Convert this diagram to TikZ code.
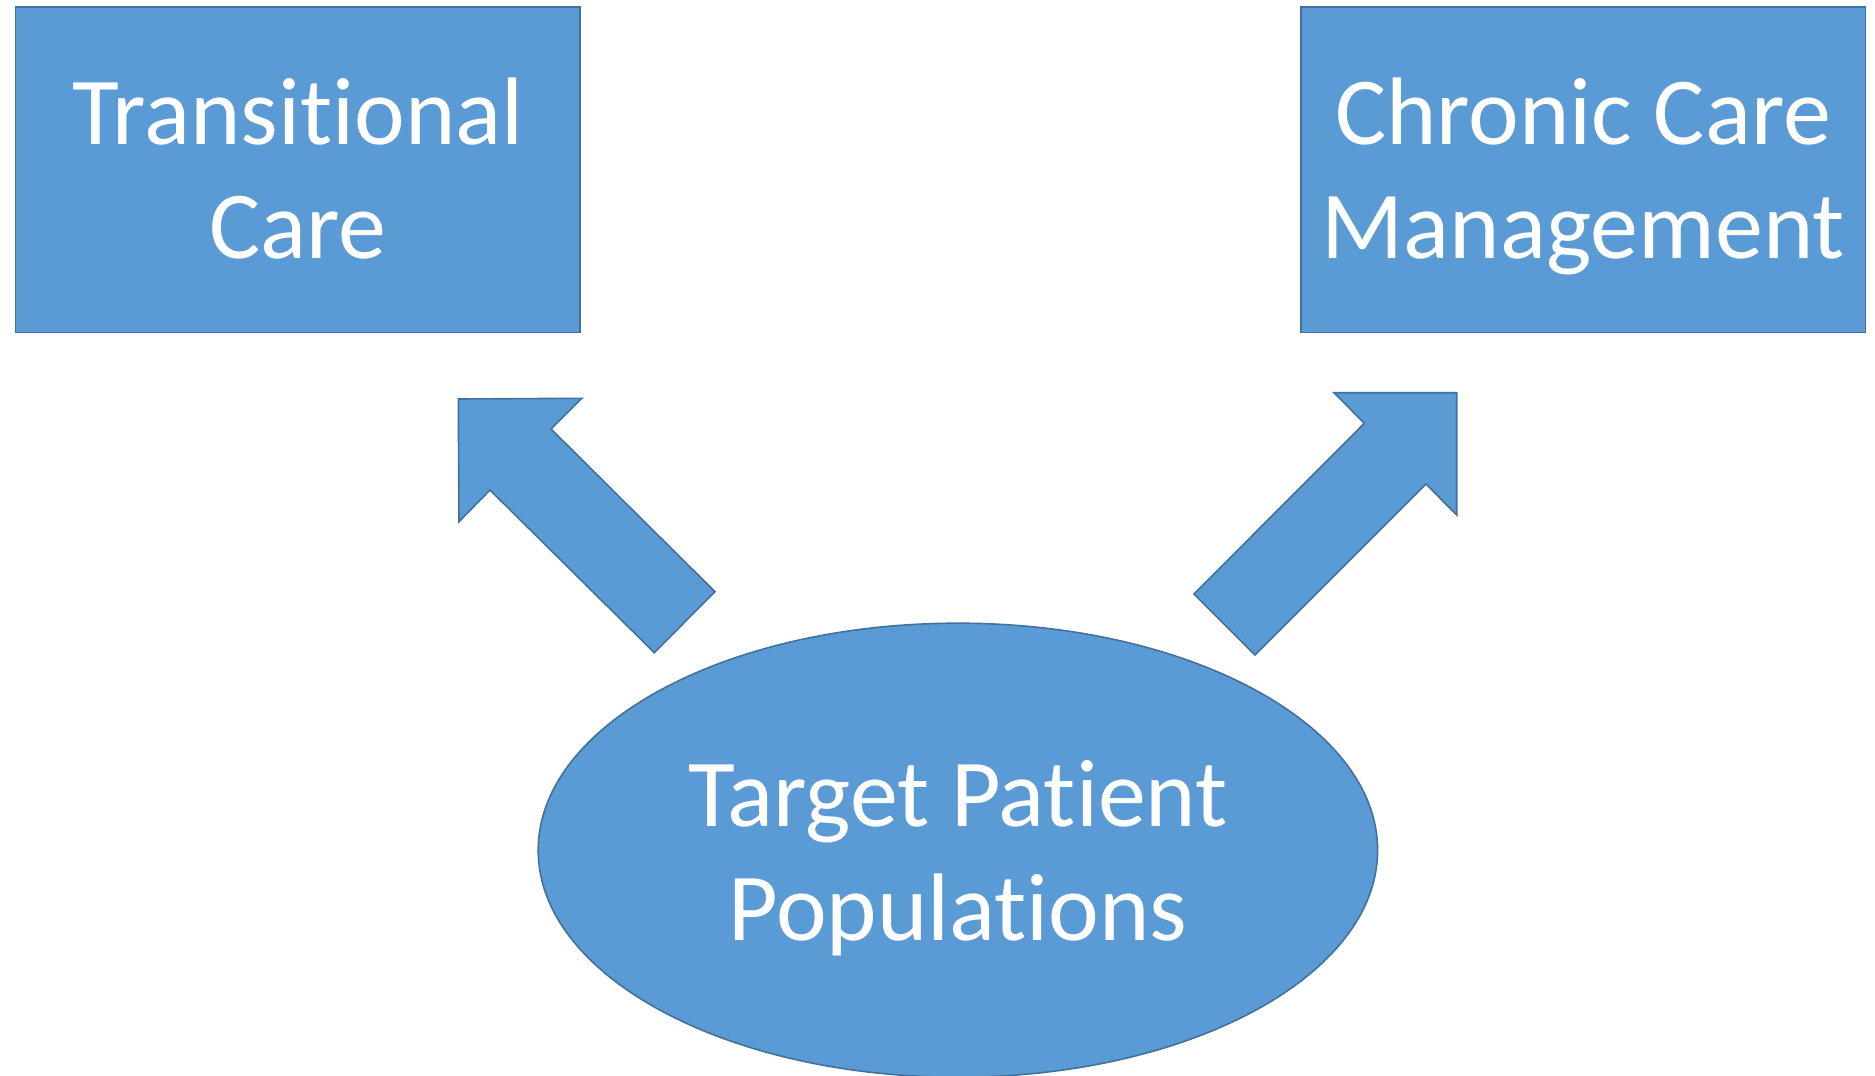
\documentclass[tikz,border=0pt]{standalone}
\usepackage{fontspec}
\setmainfont{Carlito}[Ligatures={NoCommon}]
\usetikzlibrary{shapes.geometric}

\definecolor{boxblue}{HTML}{5B9BD5}
\definecolor{edgeblue}{HTML}{41719C}

\begin{document}
\begin{tikzpicture}[
    x=1pt, y=-1pt,
    bluebox/.style={rectangle, draw=edgeblue, fill=boxblue, line width=1.6pt, minimum width=564.5pt, minimum height=325.2pt, text=white, align=center, text depth=0pt, font=\fontsize{96}{114}\selectfont},
    blueoval/.style={ellipse, draw=edgeblue, fill=boxblue, line width=1.6pt, minimum width=839.4pt, minimum height=454pt, text=white, align=center, text depth=0pt, font=\fontsize{96}{114}\selectfont},
    bluearrow/.style={draw=edgeblue, fill=boxblue, line width=1.6pt, line join=miter},
]

    \useasboundingbox (0, 0) rectangle (1875, 1076);

    % top boxes
    \node [bluebox] (transition) at (297.8, 169.8) {\raisebox{3.5pt}{Transitional}\\\raisebox{3.5pt}{Care}};
    \node [bluebox] (chronic) at (1583.2, 169.8) {\raisebox{3.5pt}{Chronic Care}\\\raisebox{3.5pt}{Management}};

    % bottom ellipse
    \node [blueoval] (target) at (957.9, 850.2) {Target Patient\\Populations};

    % left block arrow (up-left)
    \draw [bluearrow] (458.3, 399.0) -- (581.7, 398.3) -- (551.0, 429.0) -- (715.0, 591.7)
        -- (654.3, 652.7) -- (490.0, 490.0) -- (459.0, 521.7) -- cycle;

    % right block arrow (up-right)
    \draw [bluearrow] (1334.0, 392.7) -- (1456.7, 392.7) -- (1456.7, 515.0) -- (1426.0, 484.0)
        -- (1255.0, 655.0) -- (1194.0, 594.0) -- (1364.3, 423.3) -- cycle;

\end{tikzpicture}
\end{document}
